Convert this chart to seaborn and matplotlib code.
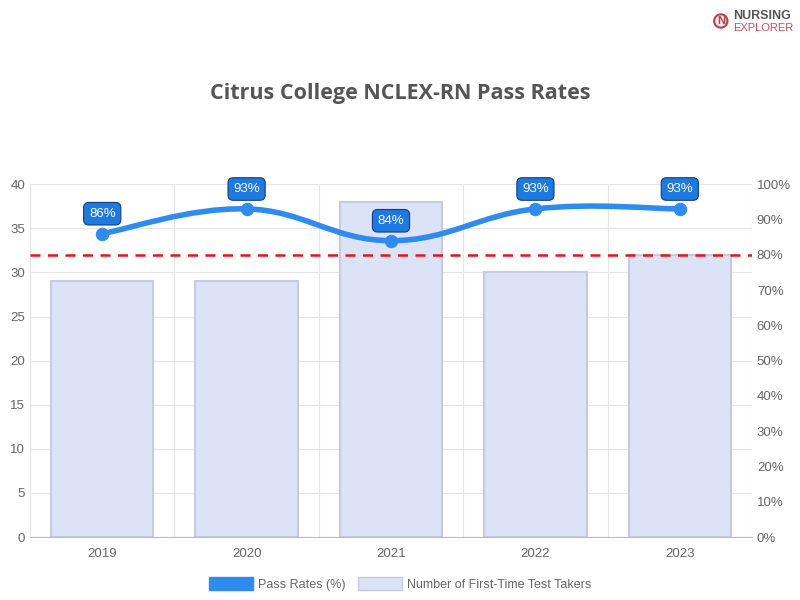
import matplotlib.pyplot as plt
import seaborn as sns
import numpy as np
from matplotlib.path import Path
from matplotlib.patches import PathPatch, Patch
from matplotlib.ticker import FuncFormatter

years = ["2019", "2020", "2021", "2022", "2023"]
takers = [29, 29, 38, 30, 32]
pass_rates = [86, 93, 84, 93, 93]
benchmark = 80

sns.set_style("white")
plt.rcParams['font.family'] = ['Liberation Sans', 'DejaVu Sans']

fig = plt.figure(figsize=(8, 6), dpi=100)
ax = fig.add_axes([0.0375, 0.105, 0.9025, 0.588])
sns.barplot(x=years, y=takers, ax=ax, color="#dde3f7", width=0.71,
            edgecolor="#c5cbe0", linewidth=1.5, saturation=1)
ax.set_ylim(0, 40)
ax.set_xlim(-0.5, 4.5)
ax.set_yticks(range(0, 41, 5))
ax.grid(True, axis="y", color="#e6e6e6", lw=0.8)
for b in np.arange(-0.5, 5, 1):
    ax.axvline(b, color="#e6e6e6", lw=0.8, zorder=0)
ax.set_axisbelow(True)
for s in ax.spines.values():
    s.set_visible(False)
ax.spines["bottom"].set_visible(True)
ax.spines["bottom"].set_color("#bbbbbb")
ax.tick_params(axis="both", colors="#666666", labelsize=9.5, length=0)
ax.tick_params(axis="x", pad=8)

ax2 = ax.twinx()
ax2.set_ylim(0, 100)
ax2.set_yticks(range(0, 101, 10))
ax2.yaxis.set_major_formatter(FuncFormatter(lambda v, p: f"{int(v)}%"))
ax2.tick_params(axis="y", colors="#666666", labelsize=9.5, length=0)
for s in ax2.spines.values():
    s.set_visible(False)

ax2.axhline(benchmark, color="#ee1111", ls=(0, (4, 3)), lw=1.8)

# smooth curve through the points (Catmull-Rom as Bezier)
xs = np.arange(len(years), dtype=float)
ys = np.array(pass_rates, dtype=float)
verts = [(xs[0], ys[0])]
codes = [Path.MOVETO]
t = 0.2
for i in range(len(xs) - 1):
    p0 = (xs[i - 1], ys[i - 1]) if i > 0 else (xs[i], ys[i])
    p3 = (xs[i + 2], ys[i + 2]) if i + 2 < len(xs) else (xs[i + 1], ys[i + 1])
    c1 = (xs[i] + t * (xs[i + 1] - p0[0]), ys[i] + t * (ys[i + 1] - p0[1]))
    c2 = (xs[i + 1] - t * (p3[0] - xs[i]), ys[i + 1] - t * (p3[1] - ys[i]))
    verts += [c1, c2, (xs[i + 1], ys[i + 1])]
    codes += [Path.CURVE4] * 3
ax2.add_patch(PathPatch(Path(verts, codes), fill=False, edgecolor="#2e8cf0", lw=4, zorder=3))
sns.scatterplot(x=xs, y=ys, ax=ax2, color="#2e8cf0", s=80, edgecolor="#2e8cf0", zorder=4, legend=False)
for x, y in zip(xs, ys):
    ax2.annotate(f"{int(y)}%", (x, y), xytext=(0, 10), textcoords="offset points",
                 ha="center", va="bottom", color="white", fontsize=9.5,
                 bbox=dict(boxstyle="round,pad=0.4", fc="#1f7ae0", ec="#0d3f80", lw=0.8), zorder=5)

fig.text(0.5, 0.845, "Citrus College NCLEX-RN Pass Rates", ha="center", va="center",
         fontsize=15.5, fontweight="bold", color="#555555", family=["Open Sans", "DejaVu Sans"])
fig.text(0.917, 0.973, "NURSING", ha="left", va="center", fontsize=9, fontweight="bold", color="#555555")
fig.text(0.917, 0.953, "EXPLORER", ha="left", va="center", fontsize=8, color="#d0505a")
fig.text(0.901, 0.965, "N", ha="center", va="center", fontsize=8, fontweight="bold", color="#c04050",
         bbox=dict(boxstyle="circle,pad=0.15", fc="#e8e8e8", ec="#c04050", lw=1.5))

handles = [Patch(fc="#2e8cf0", ec="#2e8cf0"), Patch(fc="#dde3f7", ec="#c5cbe0")]
fig.legend(handles, ["Pass Rates (%)", "Number of First-Time Test Takers"], loc="center",
           bbox_to_anchor=(0.5, 0.027), ncol=2, frameon=False, fontsize=9,
           labelcolor="#666666", handlelength=3.5, handleheight=1.3, columnspacing=1, handletextpad=0.4)

fig.savefig("out.png", dpi=100)
